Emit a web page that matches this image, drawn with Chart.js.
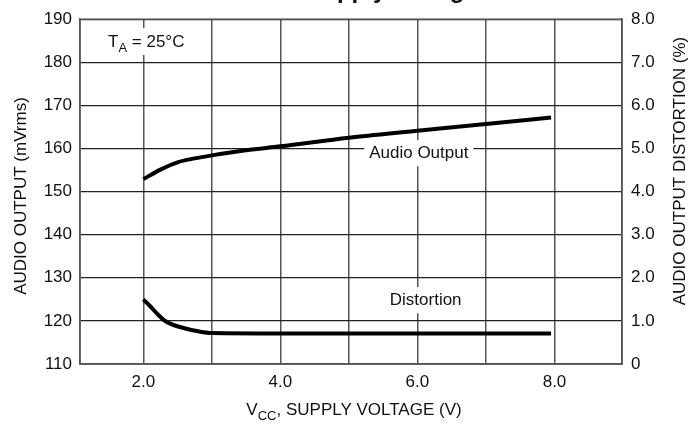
<!DOCTYPE html>
<html>
<head>
<meta charset="utf-8">
<script src="https://cdn.jsdelivr.net/npm/chart.js@4"></script>
<style>
  html, body { margin: 0; padding: 0; background: #fff; }
  #wrap { width: 689px; height: 425px; }
</style>
</head>
<body>
<div id="wrap"><canvas id="chart" width="689" height="425"></canvas></div>
<script>
// 数据
const audioVoltage = [2.0, 2.25, 2.5, 2.75, 3.0, 3.5, 4.0, 5.0, 6.0, 7.0, 7.95];
const audioOutput = [152.9, 155.1, 156.8, 157.7, 158.4, 159.6, 160.5, 162.5, 164.1, 165.7, 167.2];

const distVoltage = [2.0, 2.1, 2.2, 2.3, 2.4, 2.6, 2.8, 3.0, 4.0, 5.0, 6.0, 7.0, 7.95];
const distortion = [1.5, 1.34, 1.17, 1.02, 0.93, 0.83, 0.76, 0.72, 0.71, 0.71, 0.71, 0.71, 0.71];

// 坐标轴
const xGridValues = [2, 3, 4, 5, 6, 7, 8];
const xLabelValues = [2, 4, 6, 8];
const xRange = [1.076, 8.985];
const leftRange = [110, 190];
const rightRange = [0, 8];

const FONT = '"Liberation Sans", Arial, Helvetica, sans-serif';

// 带下标的文字
function drawRuns(ctx, runs, x, y, align) {
    let total = 0;
    runs.forEach(r => {
        ctx.font = r.size + 'px ' + FONT;
        r.w = ctx.measureText(r.t).width;
        total += r.w;
    });
    let cx = align === 'center' ? x - total / 2 : x;
    runs.forEach(r => {
        ctx.font = r.size + 'px ' + FONT;
        ctx.fillText(r.t, cx, y + (r.dy || 0));
        cx += r.w;
    });
    return total;
}

// 白底标签
function boxLabel(ctx, text, cx, cy) {
    ctx.font = '17px ' + FONT;
    const w = ctx.measureText(text).width;
    ctx.fillStyle = '#fff';
    ctx.fillRect(cx - w / 2 - 5, cy - 13, w + 10, 26);
    ctx.fillStyle = '#111';
    ctx.textAlign = 'center';
    ctx.textBaseline = 'middle';
    ctx.fillText(text, cx, cy);
}

const annotations = {
    id: 'annotations',
    beforeDatasetsDraw(chart) {
        const { ctx, chartArea: a, scales } = chart;
        ctx.save();
        // 边框
        ctx.strokeStyle = '#555';
        ctx.lineWidth = 1.5;
        ctx.strokeRect(a.left, a.top, a.right - a.left, a.bottom - a.top);

        boxLabel(ctx, 'Audio Output', scales.x.getPixelForValue(6.02), scales.y.getPixelForValue(158.9));
        boxLabel(ctx, 'Distortion', scales.x.getPixelForValue(6.12), scales.y2.getPixelForValue(1.48));

        // T_A = 25°C
        ctx.fillStyle = '#fff';
        ctx.fillRect(104, 28, 88, 27);
        ctx.fillStyle = '#111';
        ctx.textAlign = 'left';
        ctx.textBaseline = 'alphabetic';
        drawRuns(ctx, [
            { t: 'T', size: 17 },
            { t: 'A', size: 13, dy: 5 },
            { t: ' = 25°C', size: 17 }
        ], 108, 47, 'left');
        ctx.restore();
    },
    afterDraw(chart) {
        const { ctx } = chart;
        ctx.save();
        ctx.fillStyle = '#111';
        ctx.textBaseline = 'alphabetic';
        ctx.textAlign = 'left';

        // x 轴标题
        drawRuns(ctx, [
            { t: 'V', size: 17 },
            { t: 'CC', size: 13, dy: 5 },
            { t: ', SUPPLY VOLTAGE (V)', size: 17 }
        ], 354, 415, 'center');

        // 左右轴标题（都是自下而上）
        ctx.font = '17px ' + FONT;
        ctx.textAlign = 'center';
        ctx.textBaseline = 'middle';
        ctx.save();
        ctx.translate(21, 196);
        ctx.rotate(-Math.PI / 2);
        ctx.fillText('AUDIO OUTPUT (mVrms)', 0, 0);
        ctx.restore();
        ctx.save();
        ctx.translate(680, 171);
        ctx.rotate(-Math.PI / 2);
        ctx.fillText('AUDIO OUTPUT DISTORTION (%)', 0, 0);
        ctx.restore();

        // 顶部被裁掉的标题
        ctx.font = 'bold 24px ' + FONT;
        ctx.textBaseline = 'alphabetic';
        ctx.fillText('versus Supply Voltage', 350, -2);
        ctx.restore();
    }
};

function toPoints(xs, ys) {
    return xs.map((x, i) => ({ x: x, y: ys[i] }));
}

document.addEventListener('DOMContentLoaded', () => {
    const ctx = document.getElementById('chart').getContext('2d');

    const tickFont = { family: FONT, size: 17 };

    new Chart(ctx, {
        type: 'line',
        data: {
            datasets: [
                {
                    label: 'Audio Output',
                    data: toPoints(audioVoltage, audioOutput),
                    yAxisID: 'y',
                    borderColor: '#000',
                    borderWidth: 4,
                    pointRadius: 0,
                    cubicInterpolationMode: 'monotone',
                    fill: false
                },
                {
                    label: 'Distortion',
                    data: toPoints(distVoltage, distortion),
                    yAxisID: 'y2',
                    borderColor: '#000',
                    borderWidth: 4,
                    pointRadius: 0,
                    cubicInterpolationMode: 'monotone',
                    fill: false
                }
            ]
        },
        options: {
            responsive: false,
            animation: false,
            devicePixelRatio: 1,
            layout: { padding: { top: 13, left: 0, right: 0, bottom: 0 } },
            plugins: {
                legend: { display: false },
                tooltip: { enabled: false }
            },
            scales: {
                x: {
                    type: 'linear',
                    min: xRange[0],
                    max: xRange[1],
                    afterBuildTicks: s => { s.ticks = xGridValues.map(v => ({ value: v })); },
                    afterFit: s => { s.height = 61; },
                    grid: { color: '#555', lineWidth: 1.5, drawTicks: false },
                    border: { color: '#555', width: 1.5 },
                    ticks: {
                        padding: 8,
                        color: '#111',
                        font: tickFont,
                        maxRotation: 0,
                        autoSkip: false,
                        callback: v => xLabelValues.includes(v) ? v.toFixed(1) : ''
                    }
                },
                y: {
                    position: 'left',
                    min: leftRange[0],
                    max: leftRange[1],
                    afterFit: s => { s.width = 80; },
                    grid: { color: '#222', lineWidth: 1.2, drawTicks: false },
                    border: { color: '#555', width: 1.5 },
                    ticks: { stepSize: 10, padding: 8, color: '#111', font: tickFont }
                },
                y2: {
                    position: 'right',
                    min: rightRange[0],
                    max: rightRange[1],
                    afterFit: s => { s.width = 67; },
                    grid: { drawOnChartArea: false, drawTicks: false },
                    border: { color: '#555', width: 1.5 },
                    ticks: {
                        stepSize: 1,
                        padding: 9,
                        color: '#111',
                        font: tickFont,
                        callback: v => v === 0 ? '0' : v.toFixed(1)
                    }
                }
            }
        },
        plugins: [annotations]
    });
});
</script>
</body>
</html>
